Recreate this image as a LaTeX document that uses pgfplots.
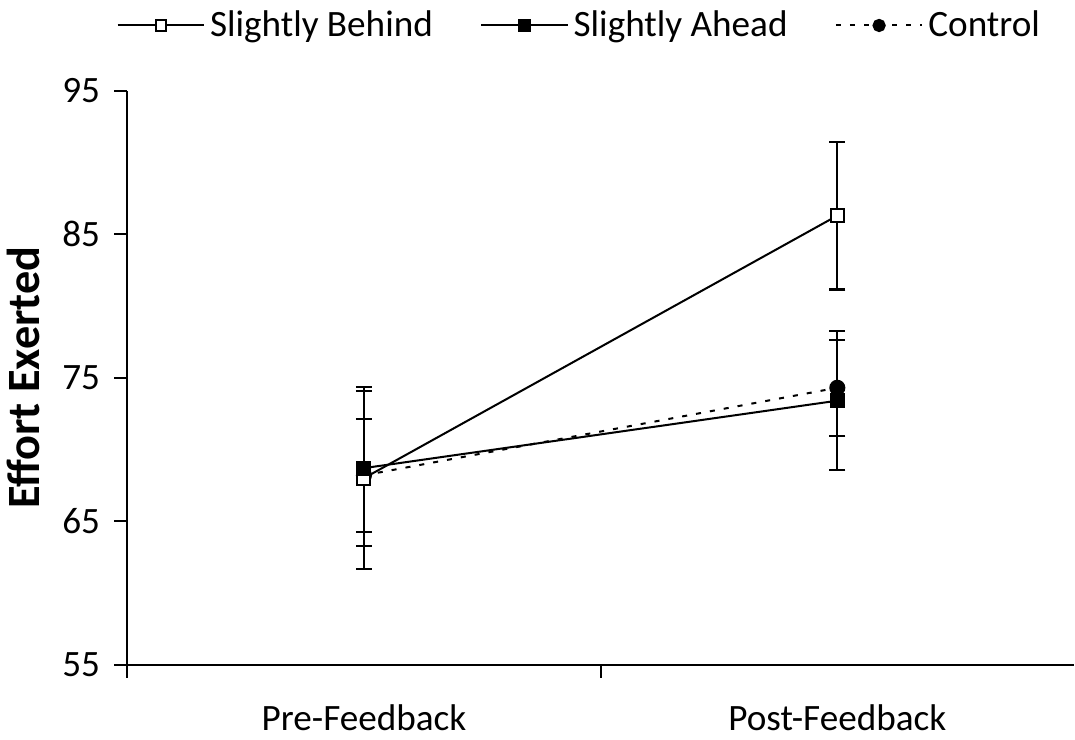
\documentclass[border=0pt]{standalone}
\usepackage{pgfplots}
\pgfplotsset{compat=1.18}
\usepackage{fontspec}
\setmainfont{Carlito}
\begin{document}
\begin{tikzpicture}
\begin{axis}[
  scale only axis,
  width=471pt, height=285.5pt,
  xmin=0, xmax=2, ymin=55, ymax=95,
  axis x line=bottom, axis y line=left,
  axis line style={-, line width=1pt},
  every tick/.style={black, line width=1pt},
  tick align=outside,
  ytick={55,65,75,85,95},
  major tick length=6.5pt,
  xtick={0,1}, xticklabels={},
  extra x ticks={0.5,1.5},
  extra x tick labels={Pre-Feedback, Post-Feedback},
  extra x tick style={major tick length=0pt, xticklabel style={inner ysep=4.5pt, yshift=-15pt}},
  /pgf/number format/assume math mode=true,
  tick label style={font=\fontsize{18.5}{22}\selectfont},
  yticklabel style={font=\fontsize{18.5}{22}\selectfont, xshift=-3.5pt},
  ylabel={\textbf{Effort Exerted}},
  ylabel style={font=\fontsize{23}{27}\selectfont, yshift=4.5pt},
  legend style={draw=none, fill=none, at={(0.479,1.0)}, anchor=center, yshift=32.5pt,
    inner ysep=3.5pt,
    legend columns=3, font=\fontsize{18.5}{22}\selectfont,
    nodes={inner xsep=2.5pt},
    /tikz/every even column/.append style={column sep=21pt}},
  legend image code/.code={
    \draw[#1, mark repeat=2, mark phase=2] plot coordinates {(0pt,0pt) (21.5pt,0pt) (43pt,0pt)};
  },
  clip=false,
]
\addplot+[forget plot, black, line width=1pt, dash pattern=on 2.5pt off 4.5pt, mark=*, mark size=3.5pt,
  mark options={solid, fill=black},
  error bars/.cd, y dir=both, y explicit,
  error bar style={solid, line width=1pt}, error mark options={rotate=90, mark size=4pt, line width=1pt}]
  coordinates {(0.5,68.2) +- (0,3.93) (1.5,74.3) +- (0,3.35)};
\addplot+[forget plot, black, line width=1pt, solid, mark=square*, mark size=3.25pt,
  mark options={solid, fill=white},
  error bars/.cd, y dir=both, y explicit,
  error bar style={solid, line width=1pt}, error mark options={rotate=90, mark size=4pt, line width=1pt}]
  coordinates {(0.5,68.0) +- (0,6.36) (1.5,86.3) +- (0,5.15)};
\addplot+[forget plot, black, line width=1pt, solid, mark=square*, mark size=3.25pt,
  mark options={solid, fill=black},
  error bars/.cd, y dir=both, y explicit,
  error bar style={solid, line width=1pt}, error mark options={rotate=90, mark size=4pt, line width=1pt}]
  coordinates {(0.5,68.7) +- (0,5.4) (1.5,73.4) +- (0,4.85)};
\addlegendimage{black, line width=1pt, solid, mark=square*, mark size=2.6pt, mark options={solid, fill=white}}
\addlegendentry{Slightly Behind}
\addlegendimage{black, line width=1pt, solid, mark=square*, mark size=2.6pt, mark options={solid, fill=black}}
\addlegendentry{Slightly Ahead}
\addlegendimage{black, line width=1pt, dash pattern=on 2.5pt off 4.5pt, mark=*, mark size=2.8pt, mark options={solid, fill=black}}
\addlegendentry{Control}
\end{axis}
\end{tikzpicture}
\end{document}
